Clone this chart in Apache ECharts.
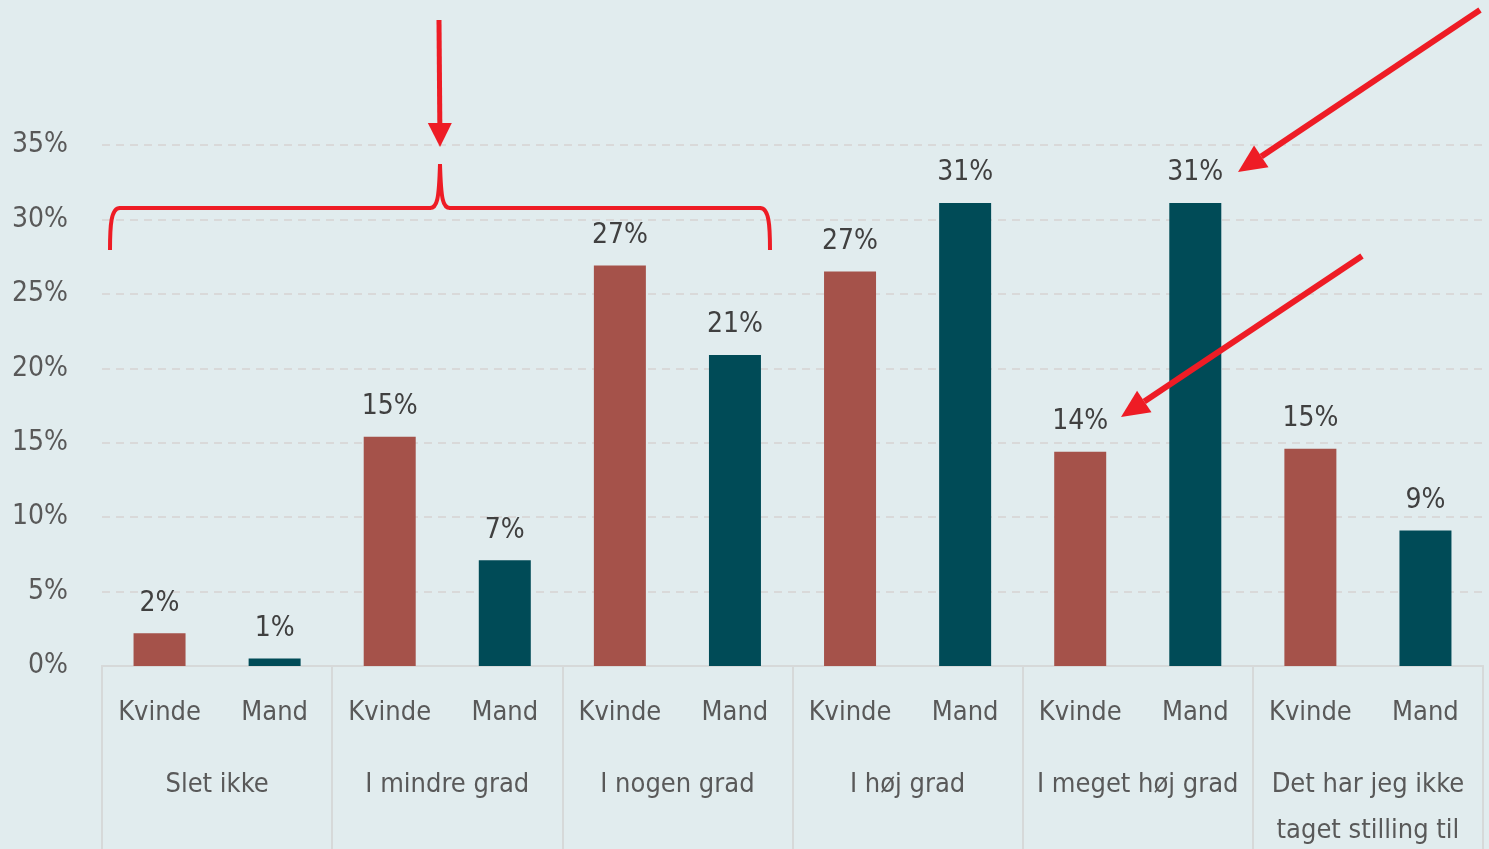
<!DOCTYPE html>
<html>
<head>
<meta charset="utf-8">
<script src="https://cdn.jsdelivr.net/npm/echarts@6/dist/echarts.min.js"></script>
<style>
  html, body { margin: 0; padding: 0; background: #e1ecee; overflow: hidden; }
  #chart { width: 1489px; height: 849px; }
</style>
</head>
<body>
<div id="chart"></div>
<script>
// ===== Data =====
const groups  = ['Slet ikke', 'I mindre grad', 'I nogen grad', 'I høj grad', 'I meget høj grad', 'Det har jeg ikke\ntaget stilling til'];
const genders = ['Kvinde', 'Mand'];
const kvinde  = [2.2, 15.4, 26.9, 26.5, 14.4, 14.6];
const mand    = [0.5, 7.1, 20.9, 31.1, 31.1, 9.1];
const yTicks  = [0, 5, 10, 15, 20, 25, 30, 35];

const FONT = "'Liberation Sans Narrow', 'DejaVu Sans Condensed', 'Roboto', sans-serif";
const RED  = '#ee1c25';
const colors = { Kvinde: '#a5524a', Mand: '#004b57' };

// interleave Kvinde / Mand per group
const labels = [];
const values = [];
groups.forEach((g, i) => {
  labels.push(genders[0], genders[1]);
  values.push({ value: kvinde[i], itemStyle: { color: colors.Kvinde } });
  values.push({ value: mand[i],   itemStyle: { color: colors.Mand } });
});

// ===== Annotation helpers (red arrows + bracket) =====
function arrow(x1, y1, x2, y2, w, headLen, headW) {
  const dx = x2 - x1, dy = y2 - y1;
  const len = Math.sqrt(dx*dx + dy*dy);
  const ux = dx/len, uy = dy/len;
  const bx = x2 - ux*headLen, by = y2 - uy*headLen;
  return [
    { type: 'line', shape: { x1, y1, x2: bx, y2: by }, style: { stroke: RED, lineWidth: w }, z: 10 },
    { type: 'polygon', shape: { points: [[x2, y2], [bx - uy*headW, by + ux*headW], [bx + uy*headW, by - ux*headW]] },
      style: { fill: RED }, z: 10 }
  ];
}

function curve(x1, y1, cpx1, cpy1, cpx2, cpy2, x2, y2) {
  return { type: 'bezierCurve', shape: { x1, y1, cpx1, cpy1, cpx2, cpy2, x2, y2 },
           style: { stroke: RED, lineWidth: 4, fill: null }, z: 10 };
}
function seg(x1, y1, x2, y2) {
  return { type: 'line', shape: { x1, y1, x2, y2 }, style: { stroke: RED, lineWidth: 4 }, z: 10 };
}

const bracket = [
  curve(110, 250, 110, 225, 111, 208, 120, 208),
  seg(119, 208, 431, 208),
  curve(430, 208, 437, 208, 439, 200, 440, 164),
  curve(440, 164, 441, 200, 443, 208, 450, 208),
  seg(449, 208, 761, 208),
  curve(760, 208, 769, 208, 770, 225, 770, 250)
];

const chart = echarts.init(document.getElementById('chart'), null, { renderer: 'canvas' });

const option = {
  backgroundColor: '#e1ecee',
  animation: false,
  // outerBoundsMode none: the group labels run off the bottom edge, don't let the grid shrink
  grid: { left: 102, right: 6, top: 145, height: 521, containLabel: false, outerBoundsMode: 'none' },
  xAxis: [
    {
      type: 'category',
      data: labels,
      axisLine: { show: true, lineStyle: { color: '#d6d9d9', width: 2 } },
      axisTick: { show: false },
      axisLabel: { color: '#595959', fontFamily: FONT, fontSize: 27, margin: 32, lineHeight: 30, interval: 0 }
    },
    {
      type: 'category',
      data: groups,
      position: 'bottom',
      axisLine: { show: true, lineStyle: { color: '#d6d9d9', width: 2 } },
      axisTick: { show: true, length: 200, lineStyle: { color: '#d6d9d9', width: 2 } },
      axisLabel: { color: '#595959', fontFamily: FONT, fontSize: 27, margin: 96, lineHeight: 46, interval: 0 }
    }
  ],
  yAxis: {
    type: 'value',
    min: yTicks[0],
    max: yTicks[yTicks.length - 1],
    interval: 5,
    axisLine: { show: false },
    axisTick: { show: false },
    axisLabel: { formatter: '{value}%', color: '#595959', fontFamily: FONT, fontSize: 28, margin: 34 },
    splitLine: { lineStyle: { color: '#d9d9d9', width: 2, type: [8, 6] } }
  },
  series: [{
    type: 'bar',
    xAxisIndex: 0,
    data: values,
    barWidth: 52,
    label: {
      show: true,
      position: 'top',
      distance: 16,
      formatter: p => Math.round(p.value) + '%',
      color: '#404040',
      fontFamily: FONT,
      fontSize: 28
    }
  }],
  graphic: [
    ...bracket,
    ...arrow(439, 20, 440, 147, 5, 24, 12),
    ...arrow(1480, 10, 1238, 172, 6, 28, 13),
    ...arrow(1362, 256, 1121, 417, 6, 28, 13)
  ]
};

chart.setOption(option);
</script>
</body>
</html>
